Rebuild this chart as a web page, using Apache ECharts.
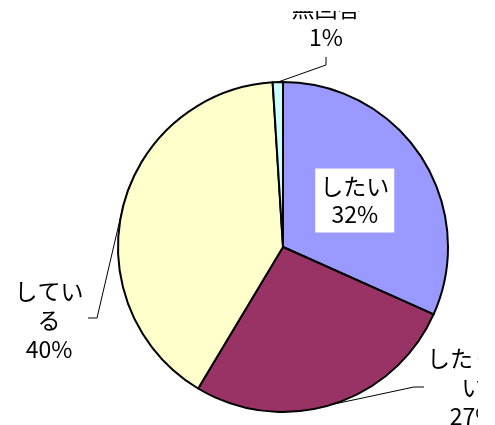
<!DOCTYPE html>
<html><head><meta charset="utf-8">
<script src="https://cdn.jsdelivr.net/npm/echarts@6/dist/echarts.min.js"></script>
<style>html,body{margin:0;padding:0;background:#fff}#c{width:495px;height:425px}</style>
</head><body><div id="c"></div>
<script>
const categories = ['したい', 'したくない', 'している', '無回答'];
const labelTexts = ['したい', 'したくな\nい', 'してい\nる', '無回答'];
const values = [31.7, 26.9, 40.4, 1.0];
const percentLabels = ['32%', '27%', '40%', '1%'];
const colors = ['#9999FF', '#993366', '#FFFFCC', '#CCFFFF'];

const font = '"Liberation Sans Narrow", "Noto Sans CJK JP", sans-serif';
// label anchor positions (annotation layout)
const labelPos = [null, {x: 473, y: 387, lx: 424}, {x: 49, y: 320, lx: 88}, {x: 326, y: 23, lx: 326}];

const chart = echarts.init(document.getElementById('c'), null, {renderer: 'canvas'});
chart.setOption({
  animation: false,
  backgroundColor: '#fff',
  graphic: [
    {type: 'rect', z: 100, left: 280, top: 0, shape: {width: 100, height: 11}, style: {fill: '#fff'}},
    {type: 'rect', z: 100, left: 478, top: 335, shape: {width: 20, height: 95}, style: {fill: '#fff'}}
  ],
  series: [{
    type: 'pie',
    center: [283, 247],
    radius: 165,
    startAngle: 90,
    clockwise: true,
    avoidLabelOverlap: false,
    itemStyle: {borderColor: '#000', borderWidth: 2},
    emphasis: {disabled: true},
    label: {
      show: true,
      position: 'outside',
      formatter: p => labelTexts[p.dataIndex] + '\n' + percentLabels[p.dataIndex],
      fontFamily: font,
      fontSize: 23,
      lineHeight: 29,
      color: '#000',
      align: 'center'
    },
    labelLine: {show: true, length: 20, length2: 10, smooth: false, lineStyle: {color: '#000', width: 1}},
    labelLayout: function (params) {
      const i = params.dataIndex;
      if (i === 0) return {};
      const lp = labelPos[i];
      const pts = params.labelLinePoints;
      const start = pts ? pts[0] : [0, 0];
      let line;
      if (i === 1) line = [start, [lp.lx - 10, 387], [lp.lx, 387]];
      else if (i === 2) line = [start, [97, 318], [lp.lx, 318]];
      else line = [start, [lp.lx, 65], [lp.lx, 57]];
      return {x: lp.x, y: lp.y, align: 'center', verticalAlign: 'middle', labelLinePoints: line};
    },
    data: categories.map((c, i) => {
      const d = {name: c, value: values[i], itemStyle: {color: colors[i]}};
      if (i === 0) {
        d.label = {position: 'inside', backgroundColor: '#fff', padding: [4, 5, 4, 5], lineHeight: 28};
        d.labelLine = {show: false};
      }
      return d;
    })
  }]
});
</script>
</body></html>
